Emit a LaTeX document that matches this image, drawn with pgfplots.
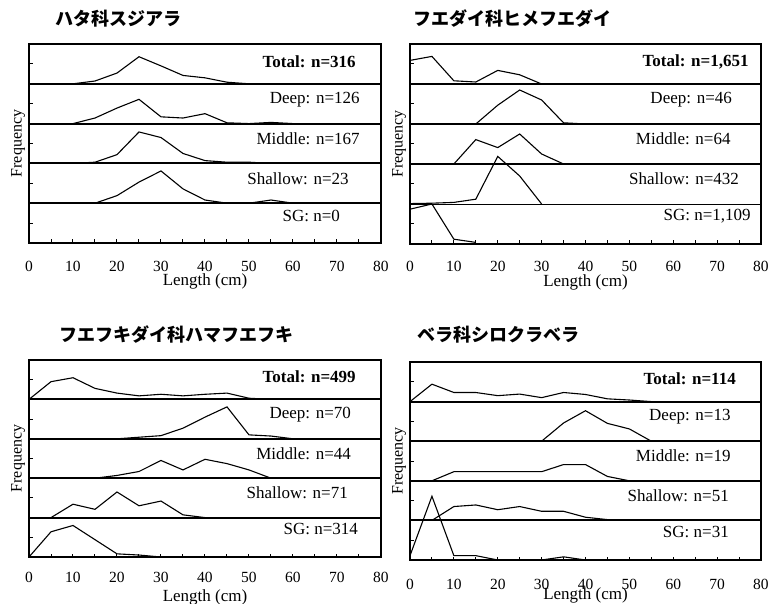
\documentclass[border=0pt]{standalone}
\usepackage{fontspec}
\setmainfont{Liberation Serif}
\newfontfamily\cjk{Noto Sans CJK JP}
\usepackage{pgfplots}
\pgfplotsset{compat=1.18}
\tikzset{psep/.style={line width=2pt}}
\pgfplotsset{
  panel/.style={
    scale only axis, width=352pt, height=199pt,
    xmin=0, xmax=80, ymin=0, ymax=5,
    axis line style={line width=2.2pt},
    xtick={0,10,...,80}, minor xtick={5,15,...,75},
    ytick={0.5,1.5,2.5,3.5,4.5}, yticklabels={},
    tick align=inside, xtick pos=bottom, ytick pos=left,
    major tick length=3.5pt, minor tick length=3.5pt,
    tick style={black, line width=1pt},
    /pgf/number format/assume math mode=true,
    xticklabel style={font=\fontsize{15.5}{16}\selectfont},
    xlabel={Length (cm)}, ylabel={Frequency},
    xlabel style={font=\fontsize{17}{18}\selectfont, at={([yshift=-38pt]axis description cs:0.5,0)}, anchor=center},
    ylabel style={font=\fontsize{16}{17}\selectfont, at={([xshift=-11pt]axis description cs:0,0.5)}, anchor=center},
    clip=false,
    cycle list={{black, line width=1.1pt, mark=none}},
    every axis plot post/.append style={black, line width=1.1pt, mark=none},
  },
}
\newcommand{\lab}[3]{\node[anchor=east, font=\fontsize{17}{18}\selectfont, inner sep=0pt] at (axis cs:#1,#2) {#3};}
\newcommand{\ttl}[3]{\node[anchor=west, font=\cjk\bfseries\fontsize{18}{20}\selectfont, inner sep=0pt] at (#1pt,#2pt) {#3};}
\begin{document}
\begin{tikzpicture}
\path[use as bounding box] (0pt,0pt) rectangle (776pt,-604pt);
% ---------- Panel 1 ----------
\ttl{55}{-19}{ハタ科スジアラ}
\begin{axis}[panel, at={(29pt,-44pt)}, anchor=north west, height=199pt,
  xticklabel style={yshift=-15pt}]
\draw[psep] (axis cs:0,1) -- (axis cs:80,1);
\draw[psep] (axis cs:0,2) -- (axis cs:80,2);
\draw[psep] (axis cs:0,3) -- (axis cs:80,3);
\draw[psep] (axis cs:0,4) -- (axis cs:80,4);
\addplot table[row sep=\\, y expr=\thisrow{f}+4] {x f\\ 10 0\\ 15 0.07\\ 20 0.27\\ 25 0.68\\ 30 0.45\\ 35 0.21\\ 40 0.15\\ 45 0.04\\ 50 0\\};
\addplot table[row sep=\\, y expr=\thisrow{f}+3] {x f\\ 10 0\\ 15 0.14\\ 20 0.39\\ 25 0.61\\ 30 0.17\\ 35 0.14\\ 40 0.25\\ 45 0.02\\ 50 0\\ 55 0.03\\ 60 0\\};
\addplot table[row sep=\\, y expr=\thisrow{f}+2] {x f\\ 10 0\\ 15 0.03\\ 20 0.22\\ 25 0.79\\ 30 0.65\\ 35 0.25\\ 40 0.07\\ 45 0.03\\ 50 0.03\\ 55 0\\};
\addplot table[row sep=\\, y expr=\thisrow{f}+1] {x f\\ 15 0\\ 20 0.19\\ 25 0.53\\ 30 0.81\\ 35 0.36\\ 40 0.08\\ 45 0\\ 50 0\\ 55 0.08\\ 60 0\\};
\node[anchor=east, font=\bfseries\fontsize{17}{18}\selectfont, inner sep=0pt] at (axis cs:74.3,4.56) {Total: n=316};
\lab{75.2}{3.61}{Deep: n=126}
\lab{75.2}{2.62}{Middle: n=167}
\lab{72.7}{1.62}{Shallow: n=23}
\lab{70.7}{0.69}{SG: n=0}
\end{axis}
% ---------- Panel 2 ----------
\ttl{413}{-19}{フエダイ科ヒメフエダイ}
\begin{axis}[panel, at={(410pt,-44pt)}, anchor=north west, width=351pt, height=200pt,
  xticklabel style={yshift=-14pt}]
\draw[line width=0.7pt] (axis cs:0,1) -- (axis cs:80,1);
\draw[psep] (axis cs:0,2) -- (axis cs:80,2);
\draw[psep] (axis cs:0,3) -- (axis cs:80,3);
\draw[psep] (axis cs:0,4) -- (axis cs:80,4);
\addplot table[row sep=\\, y expr=\thisrow{f}+4] {x f\\ 0 0.59\\ 5 0.69\\ 10 0.08\\ 15 0.05\\ 20 0.34\\ 25 0.23\\ 30 0\\};
\addplot table[row sep=\\, y expr=\thisrow{f}+3] {x f\\ 15 0\\ 20 0.47\\ 25 0.85\\ 30 0.60\\ 35 0.03\\ 40 0\\};
\addplot table[row sep=\\, y expr=\thisrow{f}+2] {x f\\ 10 0\\ 15 0.61\\ 20 0.41\\ 25 0.75\\ 30 0.25\\ 35 0\\};
\addplot table[row sep=\\, y expr=\thisrow{f}+1] {x f\\ 0 0.01\\ 5 0.02\\ 10 0.04\\ 15 0.12\\ 20 1.19\\ 25 0.70\\ 30 0\\};
\addplot table[row sep=\\, y expr=\thisrow{f}+0] {x f\\ 0 0.87\\ 5 1.0\\ 10 0.12\\ 15 0.04\\};
\node[anchor=east, font=\bfseries\fontsize{17}{18}\selectfont, inner sep=0pt] at (axis cs:77.2,4.56) {Total: n=1,651};
\lab{73.4}{3.61}{Deep: n=46}
\lab{73.1}{2.62}{Middle: n=64}
\lab{75.0}{1.62}{Shallow: n=432}
\lab{77.7}{0.69}{SG: n=1,109}
\end{axis}
% ---------- Panel 3 ----------
\ttl{59}{-335}{フエフキダイ科ハマフエフキ}
\begin{axis}[panel, at={(29pt,-360pt)}, anchor=north west, height=197pt,
  xticklabel style={yshift=-12pt}, xlabel style={at={([yshift=-40pt]axis description cs:0.5,0)}}]
\draw[psep] (axis cs:0,1) -- (axis cs:80,1);
\draw[psep] (axis cs:0,2) -- (axis cs:80,2);
\draw[psep] (axis cs:0,3) -- (axis cs:80,3);
\draw[psep] (axis cs:0,4) -- (axis cs:80,4);
\addplot table[row sep=\\, y expr=\thisrow{f}+4] {x f\\ 0 0\\ 5 0.45\\ 10 0.55\\ 15 0.28\\ 20 0.16\\ 25 0.09\\ 30 0.13\\ 35 0.09\\ 40 0.13\\ 45 0.16\\ 50 0.03\\ 55 0\\};
\addplot table[row sep=\\, y expr=\thisrow{f}+3] {x f\\ 20 0\\ 25 0.04\\ 30 0.08\\ 35 0.27\\ 40 0.55\\ 45 0.81\\ 50 0.10\\ 55 0.07\\ 60 0\\};
\addplot table[row sep=\\, y expr=\thisrow{f}+2] {x f\\ 15 0\\ 20 0.07\\ 25 0.17\\ 30 0.45\\ 35 0.21\\ 40 0.48\\ 45 0.37\\ 50 0.21\\ 55 0\\};
\addplot table[row sep=\\, y expr=\thisrow{f}+1] {x f\\ 5 0\\ 10 0.34\\ 15 0.21\\ 20 0.65\\ 25 0.30\\ 30 0.42\\ 35 0.07\\ 40 0\\};
\addplot table[row sep=\\, y expr=\thisrow{f}+0] {x f\\ 0 0\\ 5 0.64\\ 10 0.80\\ 15 0.44\\ 20 0.08\\ 25 0.05\\ 30 0\\};
\node[anchor=east, font=\bfseries\fontsize{17}{18}\selectfont, inner sep=0pt] at (axis cs:74.3,4.58) {Total: n=499};
\lab{73.2}{3.61}{Deep: n=70}
\lab{73.2}{2.62}{Middle: n=44}
\lab{72.5}{1.62}{Shallow: n=71}
\lab{74.8}{0.70}{SG: n=314}
\end{axis}
% ---------- Panel 4 ----------
\ttl{417}{-335}{ベラ科シロクラベラ}
\begin{axis}[panel, at={(410pt,-362pt)}, anchor=north west, width=351pt, height=198pt,
  xticklabel style={yshift=-16pt}, xlabel style={at={([yshift=-35pt]axis description cs:0.5,0)}}]
\draw[psep] (axis cs:0,1) -- (axis cs:80,1);
\draw[psep] (axis cs:0,2) -- (axis cs:80,2);
\draw[psep] (axis cs:0,3) -- (axis cs:80,3);
\draw[psep] (axis cs:0,4) -- (axis cs:80,4);
\addplot table[row sep=\\, y expr=\thisrow{f}+4] {x f\\ 0 0\\ 5 0.44\\ 10 0.23\\ 15 0.23\\ 20 0.15\\ 25 0.19\\ 30 0.10\\ 35 0.23\\ 40 0.18\\ 45 0.07\\ 50 0.04\\ 55 0\\};
\addplot table[row sep=\\, y expr=\thisrow{f}+3] {x f\\ 30 0\\ 35 0.46\\ 40 0.77\\ 45 0.45\\ 50 0.31\\ 55 0\\};
\addplot table[row sep=\\, y expr=\thisrow{f}+2] {x f\\ 5 0\\ 10 0.23\\ 15 0.23\\ 20 0.23\\ 25 0.23\\ 30 0.23\\ 35 0.41\\ 40 0.41\\ 45 0.11\\ 50 0\\};
\addplot table[row sep=\\, y expr=\thisrow{f}+1] {x f\\ 5 0\\ 10 0.35\\ 15 0.39\\ 20 0.27\\ 25 0.35\\ 30 0.23\\ 35 0.23\\ 40 0.08\\ 45 0.02\\ 50 0.02\\ 55 0\\};
\addplot table[row sep=\\, y expr=\thisrow{f}+0] {x f\\ 0 0.11\\ 5 1.61\\ 10 0.11\\ 15 0.11\\ 20 0\\ 25 0\\ 30 0\\ 35 0.08\\ 40 0\\};
\node[anchor=east, font=\bfseries\fontsize{17}{18}\selectfont, inner sep=0pt] at (axis cs:74.3,4.57) {Total: n=114};
\lab{73.1}{3.62}{Deep: n=13}
\lab{73.1}{2.63}{Middle: n=19}
\lab{72.7}{1.62}{Shallow: n=51}
\lab{72.7}{0.70}{SG: n=31}
\end{axis}
\end{tikzpicture}
\end{document}
